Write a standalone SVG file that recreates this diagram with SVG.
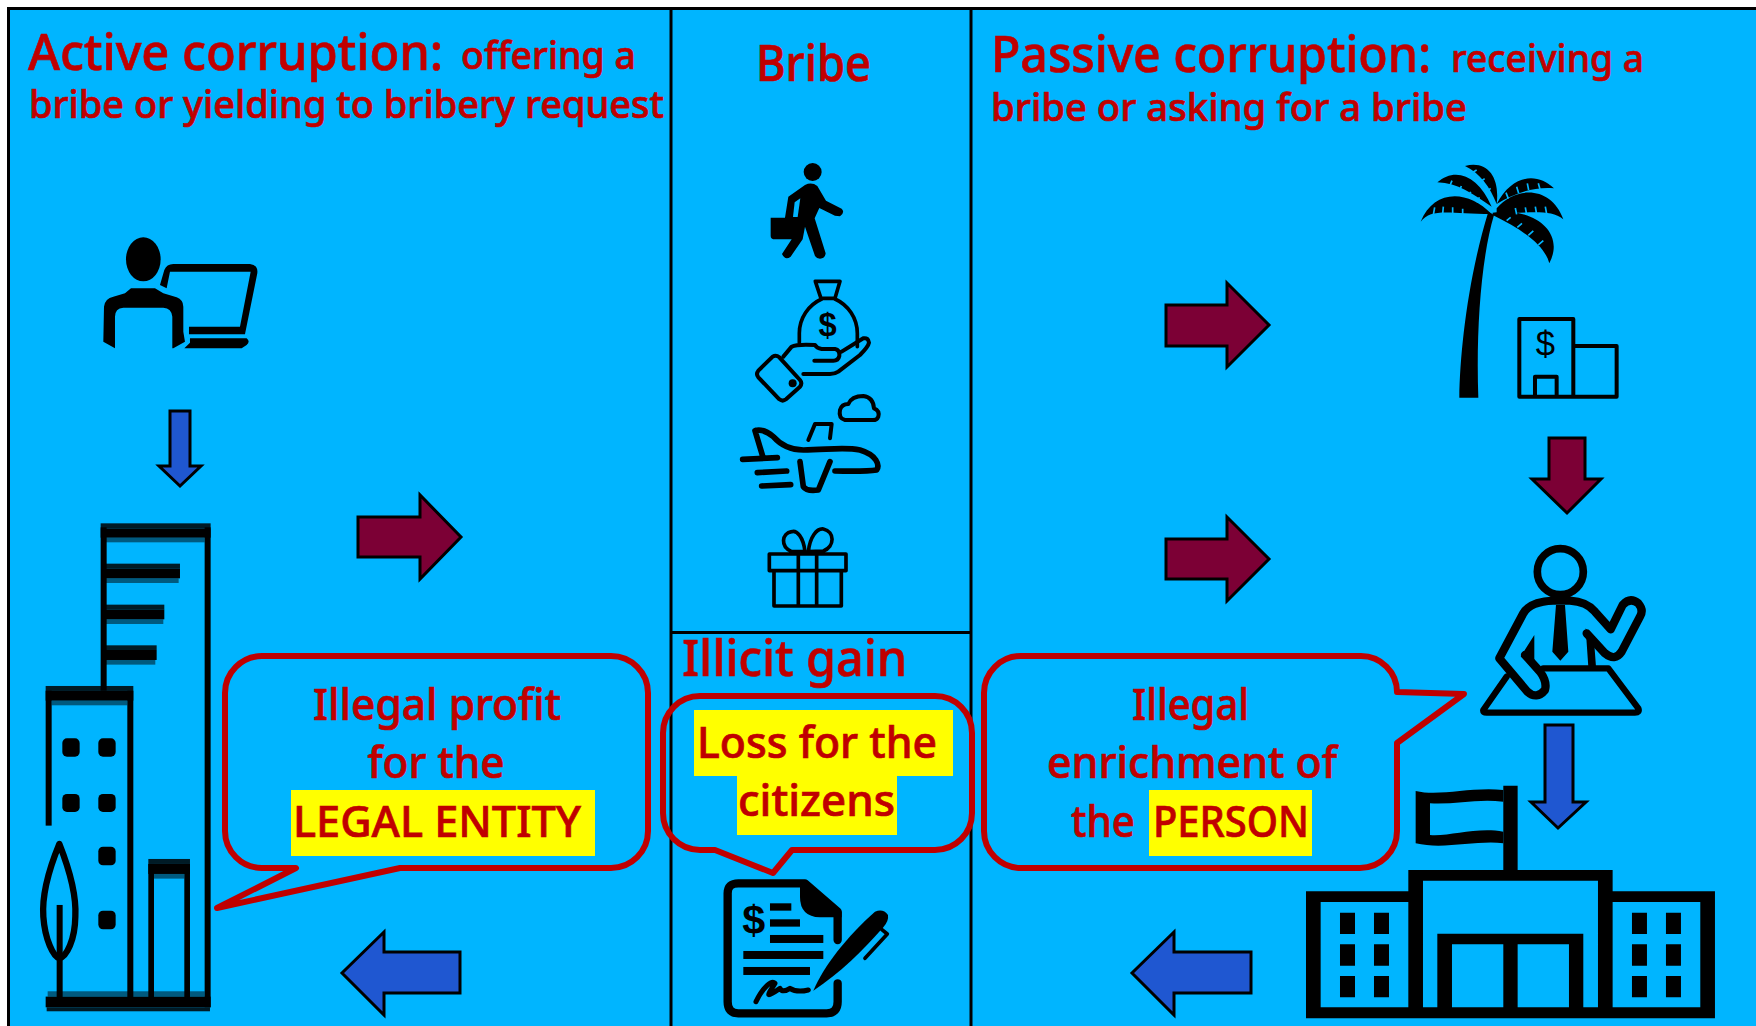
<svg xmlns="http://www.w3.org/2000/svg" width="1756" height="1026" viewBox="0 0 1756 1026">
<style>
text{font-family:"Noto Sans","DejaVu Sans",sans-serif;fill:#C00000;stroke:#C00000;stroke-width:.7px;font-weight:500}
.t50{font-size:50px}.t38{font-size:38px}.t44{font-size:44px}
.mid{text-anchor:middle}
.div{stroke:#000;stroke-width:3;fill:none}
.bubble{fill:none;stroke:#C00000;stroke-width:6;stroke-linejoin:round}
.hl{fill:#FFFF00}
.blue{fill:#1F57D1;stroke:#000;stroke-width:3}
.maroon{fill:#7C0035;stroke:#000;stroke-width:3}
.k{fill:#000}.bg{fill:#00B5FF}
.o{fill:none;stroke:#000;stroke-linecap:round;stroke-linejoin:round}
.hd{fill:#000;opacity:.85}.hl2{fill:#000;opacity:.5}
text.ic{fill:#000;stroke:none;font-family:"Liberation Sans",sans-serif;text-anchor:middle}
text.b{font-weight:700}
</style>
<rect x="0" y="0" width="1756" height="1026" fill="#fff"/>
<rect id="panel" x="9" y="9" width="1747" height="1017" class="bg"/>
<path class="div" d="M8.500 1026V8.500H1756M671 8.500V1026M971 8.500V1026M671 632.500H971"/>

<g id="title-active"><text class="t38"><tspan class="t50" x="28" y="70" textLength="415" lengthAdjust="spacingAndGlyphs">Active corruption:</tspan><tspan x="461" y="69" textLength="175" lengthAdjust="spacingAndGlyphs">offering a</tspan><tspan x="29" y="118" textLength="635" lengthAdjust="spacingAndGlyphs">bribe or yielding to bribery request</tspan></text></g>
<g id="title-bribe"><text class="t50" x="756" y="81" textLength="115" lengthAdjust="spacingAndGlyphs">Bribe</text></g>
<g id="title-passive"><text class="t38"><tspan class="t50" x="991" y="72" textLength="440" lengthAdjust="spacingAndGlyphs">Passive corruption:</tspan><tspan x="1451" y="72" textLength="193" lengthAdjust="spacingAndGlyphs">receiving a</tspan><tspan x="991" y="121" textLength="476" lengthAdjust="spacingAndGlyphs">bribe or asking for a bribe</tspan></text></g>
<g id="title-gain"><text class="t50" x="682" y="676" textLength="225" lengthAdjust="spacingAndGlyphs">Illicit gain</text></g>

<g id="laptop-person" transform="translate(0,200) scale(.3333)">
<ellipse cx="430" cy="178" rx="52" ry="66" class="k"/>
<path class="k" d="M393 265H465L490 280L530 292Q550 300 550 320V395L555 425L520 445H517V350Q515 325 490 323H370Q345 325 345 350V445L310 425L312 320Q315 295 340 290L375 280Z"/>
<path class="k" d="M480 255L493 210Q500 192 520 192H750Q775 195 772 220L735 403H567V380H720L752 215H510L500 265Z"/>
<path class="k" d="M570 415H740Q752 425 740 435L725 445H553L570 428Z"/>
</g>

<g id="company-building" transform="translate(0,500) scale(.3333)">
<rect class="hd" x="302" y="70" width="330" height="15"/><rect class="k" x="302" y="85" width="330" height="28"/><rect class="hl2" x="318" y="113" width="296" height="14"/>
<rect class="k" x="302" y="82" width="18" height="490"/><rect class="k" x="614" y="82" width="18" height="1440"/>
<rect class="hd" x="318" y="191" width="222" height="14"/><rect class="k" x="318" y="205" width="222" height="30"/><rect class="hl2" x="318" y="235" width="218" height="14"/>
<rect class="hd" x="318" y="314" width="175" height="14"/><rect class="k" x="318" y="328" width="175" height="30"/><rect class="hl2" x="318" y="358" width="172" height="14"/>
<rect class="hd" x="318" y="436" width="152" height="14"/><rect class="k" x="318" y="450" width="152" height="30"/><rect class="hl2" x="318" y="480" width="148" height="14"/>
<rect class="hd" x="137" y="558" width="263" height="15"/><rect class="k" x="137" y="573" width="263" height="29"/><rect class="hl2" x="155" y="602" width="227" height="14"/>
<rect class="k" x="137" y="572" width="18" height="405"/><rect class="k" x="382" y="572" width="18" height="930"/>
<rect class="k" x="187" y="715" width="52" height="55" rx="14"/><rect class="k" x="295" y="715" width="52" height="55" rx="14"/>
<rect class="k" x="187" y="882" width="52" height="54" rx="14"/><rect class="k" x="295" y="882" width="52" height="54" rx="14"/>
<rect class="k" x="295" y="1040" width="52" height="56" rx="14"/><rect class="k" x="295" y="1232" width="52" height="56" rx="14"/>
<rect class="hd" x="445" y="1077" width="125" height="15"/><rect class="k" x="445" y="1092" width="125" height="30"/><rect class="hl2" x="462" y="1122" width="91" height="14"/>
<rect class="k" x="445" y="1092" width="17" height="410"/><rect class="k" x="553" y="1092" width="17" height="410"/>
<rect class="hl2" x="143" y="1474" width="471" height="16"/><rect class="k" x="137" y="1490" width="495" height="32"/><rect class="hd" x="140" y="1522" width="490" height="12"/>
<path class="o" stroke-width="19" d="M178 1032C150 1100 125 1180 130 1250C135 1320 160 1370 178 1375C200 1370 225 1320 226 1250C230 1180 205 1100 178 1032Z"/>
<rect class="k" x="170" y="1215" width="18" height="285"/>
</g>

<g id="bubble-profit"><rect class="hl" x="291" y="790" width="304" height="66"/>
<path class="bubble" d="M262 656H611A37 37 0 0 1 648 693V831A37 37 0 0 1 611 868H400L217 908L296 868H262A37 37 0 0 1 225 831V693A37 37 0 0 1 262 656Z"/>
<text class="t44 mid" x="437" y="720" textLength="248" lengthAdjust="spacingAndGlyphs">Illegal profit</text><text class="t44 mid" x="436" y="778" textLength="137" lengthAdjust="spacingAndGlyphs">for the</text><text class="t44" x="293" y="837" textLength="288" lengthAdjust="spacingAndGlyphs">LEGAL ENTITY</text></g>

<g id="walker" transform="translate(720,150) scale(.3333)">
<circle cx="278" cy="66" r="27" class="k"/>
<path class="k" d="M205 140L255 105Q275 95 292 108L318 152L365 176Q376 188 360 199L345 197L298 174L284 205L317 310Q315 326 300 326Q290 326 285 318L255 230L248 268L212 320Q195 332 186 312L215 268H165Q152 268 152 258V203H195Z"/>
<path class="bg" d="M224 157L241 145L233 201L219 201Z"/>
</g>

<g id="money-hand" transform="translate(720,150) scale(.3333)">
<path class="o" stroke-width="11" d="M286 394H360L345 445H303Z"/>
<path class="o" stroke-width="11" d="M305 447C265 465 238 505 238 550V578M345 447C385 465 412 505 412 550V590"/>
<text class="ic b" x="323" y="557" font-size="98">$</text>
<path class="o" stroke-width="12" d="M365 605L430 565Q445 562 447 578Q445 590 420 615L355 665Q345 672 330 672H250M190 620L215 590Q230 582 285 585Q290 595 305 597H345Q360 600 358 618Q355 632 340 632H283"/>
<path class="o" stroke-width="12" d="M158 620Q168 614 178 622L240 690Q248 700 240 710L198 748Q188 756 178 748L115 682Q107 672 115 662Z"/>
<circle cx="218" cy="700" r="12" class="k"/>
</g>

<g id="plane" transform="translate(720,390) scale(.3333)">
<path class="o" stroke-width="17" d="M105 122Q130 115 160 140Q195 180 250 180C320 180 370 170 420 180C470 195 480 225 470 240Q440 245 345 243M105 122L130 205M68 208L172 203M112 248L200 243M125 288L212 284M240 215L250 290Q260 305 295 300L330 215"/>
<path class="o" stroke-width="12" d="M265 150L285 102H335L330 145M375 90Q355 85 360 60Q365 42 385 42Q395 18 430 18Q460 22 462 55Q480 62 475 80Q470 92 455 90Z"/>
</g>

<g id="gift" transform="translate(720,390) scale(.3333)">
<path class="o" stroke-width="11" d="M148 492H378V542H148ZM162 542V648H364V542M235 492V648M290 492V648M255 485C250 440 230 420 215 425C185 430 180 470 215 485ZM265 485C270 440 290 415 310 417C345 425 345 470 310 483Z"/>
</g>

<g id="contract" transform="translate(650,680) scale(.3333)">
<path class="o" stroke-width="25" d="M563 780V695L465 610H265Q233 610 233 640V965Q233 1000 265 1000H530Q563 1000 563 965V910"/>
<path class="k" d="M450 620L465 606L575 695V712H510Q450 710 450 650Z"/>
<text class="ic b" x="311" y="762" font-size="124">$</text>
<rect class="k" x="360" y="670" width="64" height="22"/><rect class="k" x="360" y="718" width="90" height="22"/><rect class="k" x="360" y="765" width="160" height="24"/><rect class="k" x="280" y="813" width="240" height="24"/><rect class="k" x="280" y="861" width="200" height="24"/>
<path class="o" stroke-width="15" d="M318 965C340 920 365 900 375 910C350 950 345 955 390 925C395 935 405 935 420 925C435 935 455 935 475 930"/>
<path class="k" d="M490 932C520 860 590 770 675 695Q700 685 714 705Q717 722 700 742C640 810 570 880 490 932Z"/>
<path class="o" stroke-width="11" d="M695 748L712 762L645 835"/>
</g>

<g id="bubble-loss"><path class="hl" d="M694 710H953V776H897V835H737V776H694Z"/>
<path class="bubble" d="M700 696H935A37 37 0 0 1 972 733V813A37 37 0 0 1 935 850H792L773 873L715 850H700A37 37 0 0 1 663 813V733A37 37 0 0 1 700 696Z"/>
<text class="t44" x="697" y="758" textLength="240" lengthAdjust="spacingAndGlyphs">Loss for the</text><text class="t44" x="738" y="816" textLength="157" lengthAdjust="spacingAndGlyphs">citizens</text></g>

<g id="palm" transform="translate(1400,150) scale(.3333)">
<path class="k" d="M178 743C180 600 205 380 265 185L282 195C242 330 228 550 235 743Z"/>
<path class="k" d="M275 192C200 115 100 120 62 215C95 172 150 192 275 192ZM275 170C235 75 165 50 112 97C175 100 215 130 275 170ZM290 162C300 85 265 30 195 48C240 70 270 110 290 162ZM290 162C335 75 410 65 462 115C400 110 340 130 290 162ZM290 175C350 105 455 110 490 208C450 175 390 192 290 187ZM278 188C390 170 500 240 448 340C435 290 380 245 278 195Z"/>
<path fill="none" stroke="#00B5FF" stroke-width="5" d="M100 195L104 172M128 192L130 170M158 194L158 172M188 196L188 176M150 106L156 92M178 124L184 108M206 142L212 125M232 158L238 142M216 68L230 60M240 96L254 86M260 125L272 115M420 118L415 100M386 120L382 100M356 130L350 110M325 146L318 128M440 192L436 170M410 194L406 170M380 194L376 172M350 193L346 174M415 285L430 272M385 256L400 243M352 232L366 220M320 212L332 202"/>
</g>

<g id="hotel" transform="translate(1400,150) scale(.3333)">
<path class="o" stroke-width="12" d="M358 740V507H520V740ZM520 588H650V740H520ZM405 738V680H470V738"/>
<text class="ic" x="436" y="618" font-size="104">$</text>
</g>

<g id="official" transform="translate(1440,530) scale(.3333)">
<circle cx="361" cy="125" r="69" fill="none" stroke="#000" stroke-width="23"/>
<path class="o" stroke-width="25" d="M178 385L250 250Q270 215 340 212H390Q440 215 465 245L512 298L548 225Q570 200 595 220Q612 240 600 260L545 365Q525 395 495 370L440 310M178 385L262 485Q290 510 315 480Q322 455 300 425L255 375"/>
<path class="k" d="M283 315V400L242 380ZM348 225H375L385 365L361 392L337 365ZM437 295L445 410H468L462 330Z"/>
<path class="o" stroke-width="19" d="M200 440L130 540Q128 548 140 548H585Q600 548 595 535L505 415H310"/>
</g>

<g id="government" transform="translate(1290,770) scale(.3333)">
<path class="k" d="M48 364H355V300H640V47H683V300H968V364H1275V745H48Z"/>
<path class="bg" d="M92 396H355V712H92ZM968 396H1231V712H968ZM399 332H924V712H880V491H442V712H399ZM486 523H640V712H486ZM683 523H837V712H683Z"/>
<path class="k" d="M377 63C450 80 540 50 640 60V95C560 85 490 105 420 100V195C480 200 560 170 640 185V220C560 210 460 240 377 220Z"/>
<path class="k" d="M150 428h45v64h-45zM252 428h45v64h-45zM150 523h45v64h-45zM252 523h45v64h-45zM150 618h45v64h-45zM252 618h45v64h-45zM1026 428h45v64h-45zM1128 428h45v64h-45zM1026 523h45v64h-45zM1128 523h45v64h-45zM1026 618h45v64h-45zM1128 618h45v64h-45z"/>
</g>

<g id="bubble-enrichment"><rect class="hl" x="1149" y="790" width="163" height="66"/>
<path class="bubble" d="M1021 656H1361A36 36 0 0 1 1397 692L1464 694L1397 743V831A37 37 0 0 1 1360 868H1021A37 37 0 0 1 984 831V693A37 37 0 0 1 1021 656Z"/>
<text class="t44" x="1132" y="720" textLength="117" lengthAdjust="spacingAndGlyphs">Illegal</text><text class="t44" x="1047" y="778" textLength="290" lengthAdjust="spacingAndGlyphs">enrichment of</text><text class="t44" x="1071" y="837" textLength="64" lengthAdjust="spacingAndGlyphs">the</text><text class="t44" x="1153" y="837" textLength="156" lengthAdjust="spacingAndGlyphs">PERSON</text></g>

<g id="connectors">
<path class="blue" d="M170 411H190V466H201L180 486L159 466H170Z"/>
<path class="maroon" d="M358 517H420V495L461 537L420 579V557H358Z"/>
<path class="maroon" d="M1166 305H1227V283L1269 325L1227 367V346H1166Z"/>
<path class="maroon" d="M1166 539H1227V517L1269 559L1227 601V579H1166Z"/>
<path class="maroon" d="M1549 438H1585V479H1601L1567 513L1532 479H1549Z"/>
<path class="blue" d="M1545 725H1573V802H1586L1558 828L1531 802H1545Z"/>
<path class="blue" d="M460 952H384V932L342 973L384 1015V993H460Z"/>
<path class="blue" d="M1251 952H1174V932L1132 973L1174 1015V993H1251Z"/>
</g>
</svg>
